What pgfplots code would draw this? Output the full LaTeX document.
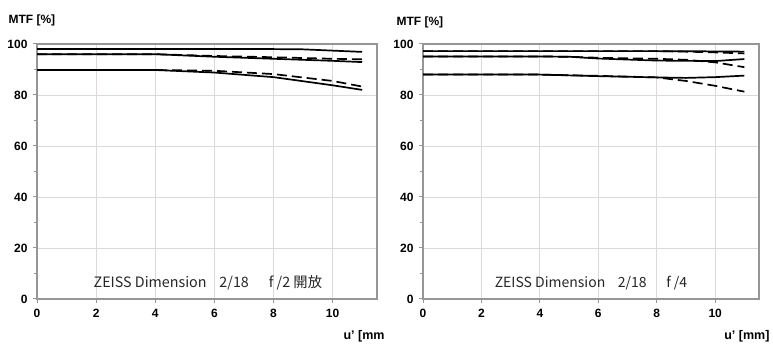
\documentclass[border=0pt]{standalone}
\usepackage{fontspec}
\setmainfont{Liberation Sans}
\newfontfamily\cjk{Noto Sans CJK JP}
\usepackage{pgfplots}
\pgfplotsset{compat=1.18}
\definecolor{gridc}{RGB}{222,216,216}
\definecolor{axc}{RGB}{150,150,150}
\pgfplotsset{
  mtf/.style={
    scale only axis, width=340pt, height=255pt,
    xmin=0, xmax=11.5, ymin=0, ymax=100,
    xtick={0,2,...,10}, ytick={0,20,...,100},
    minor ytick={10,30,50,70,90},
    grid=major, major grid style={gridc, line width=0.9pt},
    axis line style={axc, line width=1.2pt},
    tick style={axc, line width=1pt},
    tick align=outside, major tick length=4pt, minor tick length=3pt,
    xtick pos=bottom, ytick pos=left,
    ticklabel style={font=\fontsize{12}{12}\selectfont\bfseries},
    /pgf/number format/assume math mode=true,
    xticklabel style={yshift=-3pt},
    yticklabel style={xshift=-2pt},
    clip=false,
    every axis plot/.append style={black, line width=1.7pt, no marks},
  },
  dsh/.style={black, dash pattern=on 10pt off 5pt},
  sol/.style={black, solid},
}
\begin{document}
\begin{tikzpicture}
\path (0,0) rectangle (773pt,347pt);
\begin{axis}[mtf, at={(37pt,48pt)}, anchor=south west]
\addplot[sol] coordinates {(0,98.0)(4,98.0)(8,98.0)(9,97.9)(10,97.4)(11,96.9)};
\addplot[sol] coordinates {(0,96.0)(4,96.0)(6,95.0)(8,94.2)(10,93.4)(11,92.9)};
\addplot[dsh] coordinates {(0,96.0)(4,96.0)(6,95.3)(8,94.8)(10,94.2)(11,94.0)};
\addplot[sol] coordinates {(0,89.8)(4,89.8)(6,88.8)(8,87.0)(10,83.8)(11,82.0)};
\addplot[dsh] coordinates {(0,89.8)(4,89.8)(6,89.5)(8,88.2)(10,85.5)(11,83.3)};
\node[font=\cjk\fontsize{14.3}{15}\selectfont, text=black!85] at (axis cs:5.78,6.3) {ZEISS Dimension\hspace{0.9em}2/18\hspace{1.4em}f /2 開放};
\end{axis}
\node[anchor=west, font=\fontsize{12}{12}\selectfont\bfseries] at (5pt,327pt) {MTF [\%]};
\node[anchor=west, font=\fontsize{12.5}{12}\selectfont\bfseries] at (340pt,11pt) {u' [mm};
\begin{axis}[mtf, width=336pt, at={(423pt,48pt)}, anchor=south west]
\addplot[sol] coordinates {(0,97.2)(6,97.2)(8,97.2)(10,97.1)(11,97.0)};
\addplot[dsh] coordinates {(0,97.2)(8,97.2)(9,97.0)(10,96.7)(11,96.3)};
\addplot[sol] coordinates {(0,95.1)(4,95.1)(5,95.0)(6,94.3)(8,93.5)(10,93.3)(11,94.1)};
\addplot[dsh] coordinates {(0,95.1)(4,95.1)(5,95.0)(6,94.6)(8,94.2)(9,93.8)(10,92.8)(11,90.9)};
\addplot[sol] coordinates {(0,88.0)(4,88.0)(6,87.4)(8,86.9)(9,86.7)(10,87.0)(11,87.6)};
\addplot[dsh] coordinates {(0,88.0)(4,88.0)(6,87.5)(8,86.9)(9,85.5)(10,83.6)(11,81.3)};
\node[font=\cjk\fontsize{14}{15}\selectfont, text=black!85] at (axis cs:5.75,6.3) {ZEISS Dimension\hspace{0.9em}2/18\hspace{1.4em}f /4};
\end{axis}
\node[anchor=west, font=\fontsize{12}{12}\selectfont\bfseries] at (393pt,325pt) {MTF [\%]};
\node[anchor=east, font=\fontsize{12.5}{12}\selectfont\bfseries] at (773pt,11pt) {u' [mm]};
\end{tikzpicture}
\end{document}
